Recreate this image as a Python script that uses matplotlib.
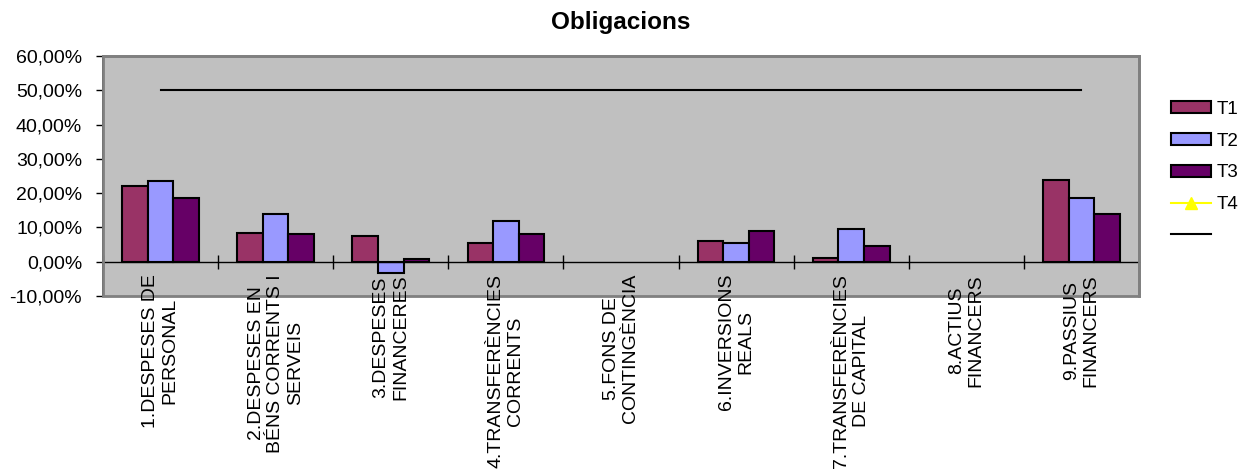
import matplotlib
matplotlib.use("Agg")
import matplotlib.pyplot as plt
import numpy as np
from matplotlib.patches import Patch, Rectangle
from matplotlib.lines import Line2D
from matplotlib.ticker import FuncFormatter

plt.rcParams['font.family'] = ['Liberation Sans', 'DejaVu Sans']

categories = [
    "1.DESPESES DE\nPERSONAL",
    "2.DESPESES EN\nBÉNS CORRENTS I\nSERVEIS",
    "3.DESPESES\nFINANCERES",
    "4.TRANSFERÈNCIES\nCORRENTS",
    "5.FONS DE\nCONTINGÈNCIA",
    "6.INVERSIONS\nREALS",
    "7.TRANSFERÈNCIES\nDE CAPITAL",
    "8.ACTIUS\nFINANCERS",
    "9.PASSIUS\nFINANCERS",
]
t1 = [22.2, 8.3, 7.4, 5.6, 0.0, 5.9, 1.0, 0.0, 23.8]
t2 = [23.4, 13.8, -3.2, 11.8, 0.0, 5.4, 9.4, 0.0, 18.5]
t3 = [18.6, 8.1, 0.7, 8.1, 0.0, 8.9, 4.6, 0.0, 14.0]
t4 = [np.nan] * 9
target = [50.0] * 9
series_names = ["T1", "T2", "T3", "T4", " "]
yticks = [-10, 0, 10, 20, 30, 40, 50, 60]

W, H = 1257, 476
fig = plt.figure(figsize=(W / 100, H / 100), dpi=100)
ax = fig.add_axes([103 / W, 1 - 296 / H, (1139 - 103) / W, (296 - 56) / H])
ax.set_facecolor('#C0C0C0')

x = np.arange(len(categories))
bw = 0.222
cols = ['#993366', '#9999FF', '#660066']
for k, (vals, c) in enumerate(zip([t1, t2, t3], cols)):
    lws = [1.5 if v != 0 else 0 for v in vals]
    ax.bar(x + (k - 1) * bw, vals, width=bw, color=c, edgecolor='black', linewidth=lws, zorder=3)

ax.plot(x, t4, color='yellow', marker='^', zorder=4)
ax.plot(x, target, color='black', linewidth=1.5, zorder=4)

ax.set_xlim(-0.5, len(categories) - 0.5)
ax.set_ylim(-10, 60)
ax.set_yticks(yticks)
ax.yaxis.set_major_formatter(FuncFormatter(lambda v, p: f"{v:.2f}%".replace('.', ',')))
ax.tick_params(axis='y', labelsize=14, length=5, width=1, direction='out', pad=10)

ax.spines['bottom'].set_position(('data', 0))
ax.spines['bottom'].set_color('black')
ax.spines['bottom'].set_linewidth(1)
ax.spines['bottom'].set_zorder(5)
ax.set_xticks(np.arange(len(categories) + 1) - 0.5)
ax.set_xticklabels([])
ax.tick_params(axis='x', direction='inout', length=10, width=1)
ax.spines['left'].set_color('black')
ax.spines['left'].set_linewidth(1.2)
for s in ['top', 'right']:
    ax.spines[s].set_color('#808080')
    ax.spines[s].set_linewidth(2)
ax.add_patch(Rectangle((0, 0), 1, 1, transform=ax.transAxes, fill=False,
                       edgecolor='#808080', linewidth=2, zorder=6, clip_on=False))

for i, lab in enumerate(categories):
    ax.text(i, (296 - 274) / 240, lab, transform=ax.get_xaxis_transform(),
            rotation=90, ha='center', va='top', multialignment='center',
            fontsize=14, clip_on=False, zorder=7)

fig.text(621 / W, 1 - 22 / H, "Obligacions", ha='center', va='center',
         fontsize=17.5, fontweight='bold')

handles = [Patch(facecolor=c, edgecolor='black', linewidth=1.5) for c in cols]
handles.append(Line2D([], [], color='yellow', marker='^', markersize=8))
handles.append(Line2D([], [], color='black', linewidth=1.5))
leg = fig.legend(handles, series_names, loc='upper left',
                 bbox_to_anchor=(1171 / W, 1 - 101 / H), bbox_transform=fig.transFigure,
                 frameon=False, fontsize=13.5, handlelength=2.15, handleheight=0.6,
                 handletextpad=0.3, labelspacing=0.78, borderpad=0, borderaxespad=0)

fig.savefig('out.png', dpi=100, facecolor='white')
